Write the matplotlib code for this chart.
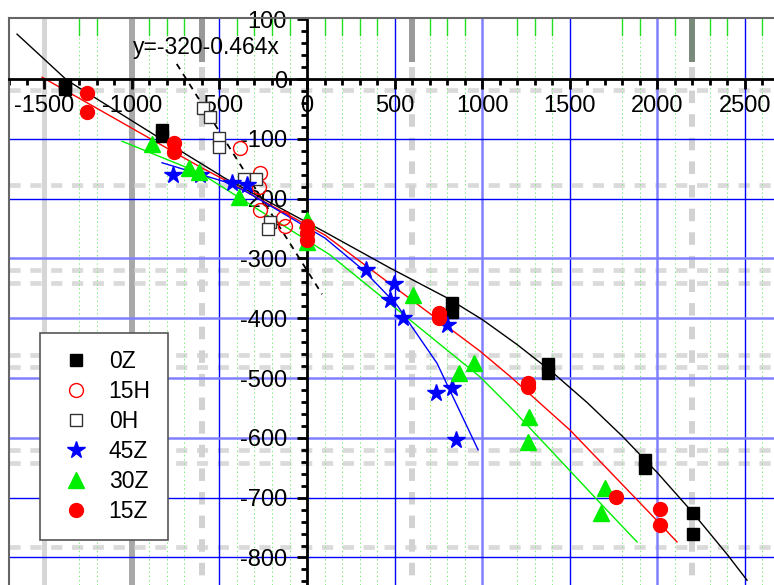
import numpy as np
import matplotlib.pyplot as plt
from matplotlib.ticker import MultipleLocator

plt.rcParams['font.family'] = ['Liberation Sans', 'DejaVu Sans']
plt.rcParams['axes.unicode_minus'] = False
plt.rcParams['lines.scale_dashes'] = False

# measured points
x_0z = [-1380, -1380, -828, -828, 828, 828, 1376, 1376, 1930, 1930, 2207, 2207]
y_0z = [-10, -16, -85, -95, -375, -390, -477, -492, -637, -651, -726, -761]

x_15h = [-383, -268, -274, -268, -137, -126]
y_15h = [-115, -157, -180, -219, -232, -245]

x_0h = [-594, -554, -503, -503, -360, -291, -211, -223]
y_0h = [-48, -64, -99, -114, -167, -167, -239, -251]

x_45z = [-765, -611, -428, -343, 337, 497, 474, 548, 800, 737, 828, 851]
y_45z = [-161, -160, -174, -177, -319, -343, -370, -400, -411, -525, -517, -604]

x_30z = [-885, -674, -617, -388, 0, 0, 605, 868, 954, 1268, 1262, 1702, 1679]
y_30z = [-109, -149, -156, -197, -235, -272, -361, -492, -475, -565, -607, -684, -726]

x_15z = [-1256, -1256, -760, -760, 0, 0, 0, 754, 754, 1262, 1262, 1765, 2016, 2016]
y_15z = [-23, -55, -107, -122, -245, -258, -270, -392, -400, -508, -515, -699, -719, -746]

# fitted curves
fit_0z_x = [-1656, -1371, -868, -468, 103, 474, 800, 1000, 1200, 1400, 1600, 1800, 2000, 2200, 2400, 2513]
fit_0z_y = [75, -2, -94, -166, -256, -316, -366, -402, -444, -490, -541, -597, -658, -724, -795, -838]
fit_15z_x = [-1513, -611, -468, 103, 988, 1159, 1502, 1942, 2113]
fit_15z_y = [3, -147, -169, -261, -455, -497, -587, -721, -774]
fit_30z_x = [-1057, -611, 131, 988, 1159, 1713, 1885]
fit_30z_y = [-104, -157, -294, -498, -548, -721, -774]
fit_45z_x = [-828, -468, -343, 103, 320, 514, 742, 977]
fit_45z_y = [-140, -172, -189, -266, -319, -378, -475, -620]

# 0H line: y=-320-0.464x
line_x = [-744, 86]
line_y = [-320 - 0.464 * v for v in line_x]

# background clutter in the original
green_x = [-1300, -1200, -900, -800, -700, -400, -300, -200, -100, 100, 200, 300, 400,
           700, 800, 900, 1200, 1300, 1400, 1800, 1900, 2100, 2300, 2400, 2600]
gray_rows = [-18, -177, -319, -341, -462, -482, -621, -642, -783]
gray_cols = [-600, 600, 2200]
gray_col_top = ['#999999', '#9a9a9a', '#7a8a7a']

fig = plt.figure(figsize=(7.74, 5.85), dpi=100)
ax = fig.add_axes([9 / 774, 0, 765 / 774, (585 - 18.3) / 585])
ax.set_xlim(-1702, 2667)
ax.set_ylim(-846, 101.5)

# gray artifacts
ax.axvline(-1500, color='#d6d6d6', lw=3.6, zorder=0.5)
ax.axvline(-1000, color='#a8a8a8', lw=4.3, zorder=0.5)
for yv in gray_rows:
    ax.axhline(yv, color='#dadada', lw=3.4, dashes=(8, 7), zorder=0.5)
for xv, c in zip(gray_cols, gray_col_top):
    ax.plot([xv, xv], [101.5, 28], color=c, lw=4.3, zorder=0.6, solid_capstyle='butt')
    ax.plot([xv, xv], [20, -846], color='#d2d2d2', lw=4.3, dashes=(9, 8), zorder=0.5)

# green minor grid + top ticks
for xv in green_x:
    ax.axvline(xv, color='#77ee77', lw=0.7, ls=(0, (1, 2)), zorder=0.7)
    ax.plot([xv, xv], [101.5, 73], color='#22dd22', lw=1.0, zorder=0.7)

# blue major grid
for xv, c, w in [(-500, '#0000ff', 1.0), (500, '#0000ff', 1.0), (1000, '#8080ff', 1.8),
                 (1500, '#0000ff', 1.0), (2000, '#8080ff', 1.8), (2500, '#0000ff', 1.0)]:
    ax.axvline(xv, color=c, lw=w, zorder=0.8)
for yv, c, w in [(-100, '#0000ff', 1.0), (-200, '#0000ff', 1.0), (-300, '#8080ff', 1.8),
                 (-400, '#8080ff', 1.8), (-500, '#8080ff', 1.8), (-600, '#8080ff', 1.8),
                 (-700, '#0000ff', 1.0), (-800, '#0000ff', 1.0)]:
    ax.axhline(yv, color=c, lw=w, zorder=0.8)

# fits
ax.plot(fit_0z_x, fit_0z_y, color='black', lw=1.0, zorder=2)
ax.plot(fit_15z_x, fit_15z_y, color='red', lw=1.0, zorder=2)
ax.plot(fit_30z_x, fit_30z_y, color='#00ee00', lw=1.0, zorder=2)
ax.plot(fit_45z_x, fit_45z_y, color='blue', lw=1.0, zorder=2)
ax.plot(line_x, line_y, color='black', lw=1.3, dashes=(4.5, 4), zorder=2)

# points
ax.plot(x_0z, y_0z, 's', color='black', ms=8.5, label='0Z', zorder=3)
ax.plot(x_15h, y_15h, 'o', mfc='none', mec='red', mew=1.0, ms=10, label='15H', zorder=3)
ax.plot(x_0h, y_0h, 's', mfc='white', mec='#333333', mew=1.0, ms=9, label='0H', zorder=3)
ax.plot(x_45z, y_45z, '*', color='blue', ms=13, label='45Z', zorder=3)
ax.plot(x_30z, y_30z, '^', color='#00ee00', ms=11, label='30Z', zorder=3)
ax.plot(x_15z, y_15z, 'o', color='red', ms=10, label='15Z', zorder=3)

ax.text(-572, 52, 'y=-320-0.464x', fontsize=16.5, ha='center', va='center', zorder=4)

# axes through origin
ax.spines['left'].set_position(('data', 0))
ax.spines['bottom'].set_position(('data', 0))
ax.spines['right'].set_visible(False)
ax.spines['top'].set_color('#666666')
ax.spines['top'].set_linewidth(1.5)
for s in ['left', 'bottom']:
    ax.spines[s].set_linewidth(2)
    ax.spines[s].set_zorder(2.5)
ax.plot([0, 0], [0, 1], transform=ax.transAxes, color='#666666', lw=1.5, clip_on=False)

ax.xaxis.set_major_locator(MultipleLocator(500))
ax.xaxis.set_minor_locator(MultipleLocator(100))
ax.yaxis.set_major_locator(MultipleLocator(100))
ax.yaxis.set_minor_locator(MultipleLocator(20))
ax.tick_params(which='major', length=7.5, width=2, labelsize=17)
ax.tick_params(which='minor', length=4.3, width=2)
ax.tick_params(axis='x', which='major', pad=4)
ax.tick_params(axis='y', which='major', pad=7)

leg = ax.legend(loc='upper left', bbox_to_anchor=(0.0405, 0.4447), fontsize=16.5,
                fancybox=False, framealpha=1, edgecolor='#555555', borderpad=0.75,
                handlelength=1.6, handletextpad=0.65, labelspacing=0.3, borderaxespad=0)
leg.get_frame().set_linewidth(1.2)
leg.set_zorder(5)

fig.savefig('out.png', dpi=100)
